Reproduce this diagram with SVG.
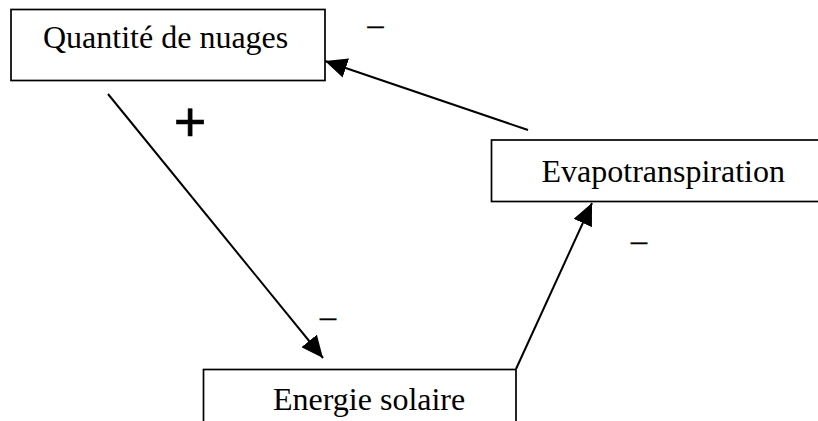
<svg xmlns="http://www.w3.org/2000/svg" width="818" height="421" viewBox="0 0 818 421">
<style>
.box{fill:#fff;stroke:#000;stroke-width:1.7}
.lbl{font-family:"Liberation Serif","Times New Roman",serif;font-size:32px;fill:#000}
.sign{font-family:"Liberation Serif","Times New Roman",serif;font-size:32px;fill:#000;text-anchor:middle;stroke:#000;stroke-width:0.4}
.plus{font-family:"Liberation Sans",Arial,sans-serif;font-size:56px;fill:#000;text-anchor:middle;stroke:#000;stroke-width:0.6}
.conn{stroke:#000;stroke-width:2;fill:none;marker-end:url(#ah)}
</style>
<defs>
<marker id="ah" viewBox="0 0 22 20" refX="22" refY="10" markerWidth="22" markerHeight="20" markerUnits="userSpaceOnUse" orient="auto">
<path d="M0,0 L22,10 L0,20 z" fill="#000"/>
</marker>
</defs>
<rect width="818" height="421" fill="#fff"/>
<g id="connectors">
<line class="conn" x1="108" y1="94" x2="323" y2="358"/>
<line class="conn" x1="516" y1="369" x2="592" y2="203"/>
<line class="conn" x1="528" y1="130" x2="325" y2="61"/>
</g>
<g id="node-nuages">
<rect class="box" x="11" y="9.5" width="314" height="71"/>
<text class="lbl" x="43" y="48">Quantité de nuages</text>
</g>
<g id="node-evapo">
<rect class="box" x="491.5" y="140" width="340" height="61.5"/>
<text class="lbl" x="541.5" y="181.5">Evapotranspiration</text>
</g>
<g id="node-energie">
<rect class="box" x="203.5" y="369.5" width="312.5" height="70"/>
<text class="lbl" x="273" y="410">Energie solaire</text>
</g>
<g id="labels">
<text class="plus" x="190" y="140.5">+</text>
<text class="sign" x="375.5" y="35">–</text>
<text class="sign" x="639" y="250.5">–</text>
<text class="sign" x="328" y="326.5">–</text>
</g>
</svg>
